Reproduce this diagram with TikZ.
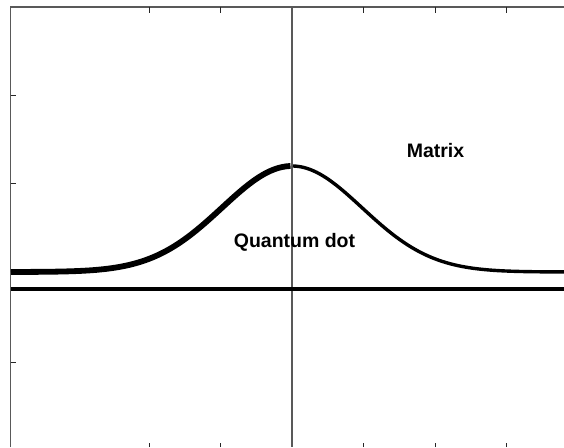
\documentclass[tikz,border=0pt]{standalone}
\usepackage{fontspec}
\setmainfont{Liberation Sans}
\usetikzlibrary{positioning,calc}
\tikzset{
  frameln/.style={line width=1.2pt, black!65},
  tickln/.style={line width=1pt, black!85},
  curveln/.style={line width=5.8pt, line join=round},
  thinln/.style={line width=3.4pt, line join=round},
  baseln/.style={line width=3.6pt},
  lbl/.style={font=\fontsize{19.5}{22}\selectfont\bfseries, inner sep=0pt, anchor=base},
}
\newcommand{\dotprofile}{175+106*exp(-0.5*((\x-292)/70)^2)}

\begin{document}
\begin{tikzpicture}[x=1pt, y=1pt]
    \useasboundingbox (0,0) rectangle (564,447);
    \coordinate (tl) at (10.5,440);
    \coordinate (tr) at (564,440);
    \coordinate (bl) at (10.5,0);
    \coordinate (ctop) at (292,440);
    \coordinate (cbot) at (292,0);
    % frame
    \draw[frameln] (bl) -- (tl) -- (tr);
    \foreach \tx in {149,220.5,363.5,435,506.5} {
      \draw[tickln] (\tx,440) -- (\tx,434);
      \draw[tickln] (\tx,0) -- (\tx,4.5);
    }
    \foreach \ty in {85,174,263,351}
      \draw[tickln] (10.5,\ty) -- (16,\ty);
    % centre of the dot
    \draw[frameln] (ctop) -- (cbot);
    % band edge
    \draw[baseln] (11,158) -- (564,158);
    \draw[curveln, domain=11:290.5, smooth, samples=70] plot (\x, {\dotprofile});
    \draw[thinln, domain=293:564, smooth, samples=70] plot (\x, {\dotprofile});
    \node[lbl] (qd) at (294.5,199) {Quantum dot};
    \node[lbl] (mx) at (435.5,289) {Matrix};
\end{tikzpicture}
\end{document}
